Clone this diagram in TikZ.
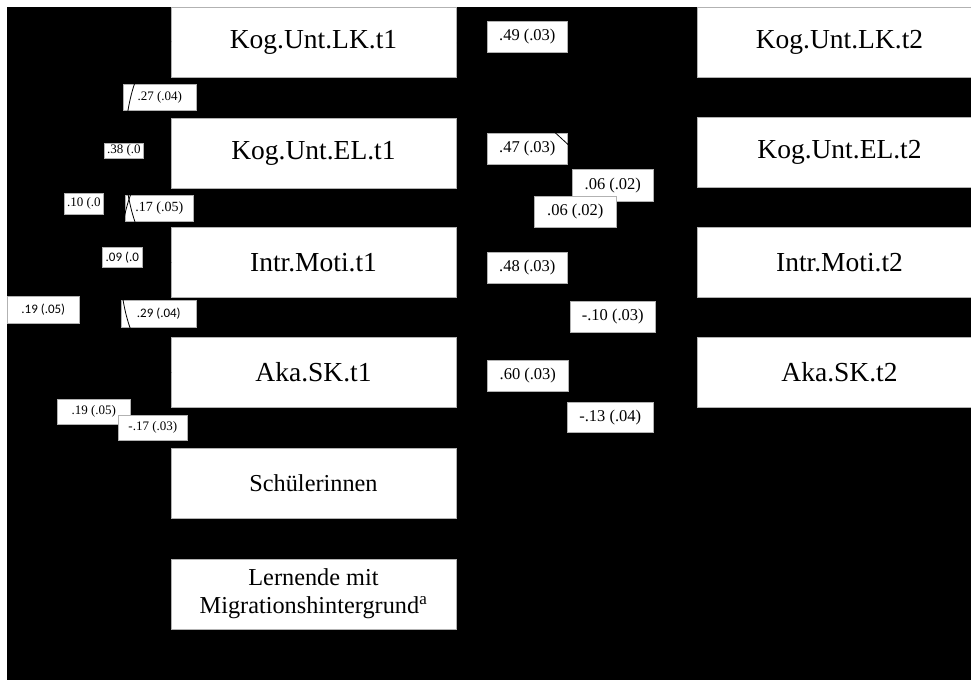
\documentclass[tikz,border=0pt]{standalone}
\usepackage{fontspec}
\setmainfont{Liberation Serif}
\newfontfamily\calib{Carlito}
\usetikzlibrary{arrows.meta}
\begin{document}
\begin{tikzpicture}[x=1pt,y=-1pt,
 box/.style={draw=gray!60,line width=0.7pt,fill=white,minimum width=285pt,minimum height=70pt,inner sep=0pt,font=\fontsize{27.5}{30}\selectfont},
 smallbox/.style={box,font=\fontsize{24.3}{28}\selectfont,align=center},
 lab/.style={draw=gray!60,line width=0.6pt,fill=white,inner sep=0pt,anchor=north west},
 labS/.style={lab,font=\fontsize{13}{15}\selectfont},
 labM/.style={lab,font=\fontsize{14}{16}\selectfont},
 labC/.style={lab,font=\calib\fontsize{13}{15}\selectfont},
 labR/.style={lab,font=\fontsize{16.5}{19}\selectfont},
 conn/.style={draw=black,line width=0.8pt,-{Latex[length=7pt,width=5pt]}},
 corr/.style={draw=black,line width=0.8pt,{Latex[length=7pt,width=5pt]}-{Latex[length=7pt,width=5pt]}},
]
\useasboundingbox (0,0) rectangle (971,680);
\clip (0,0) rectangle (971,680);
\fill[white] (0,0) rectangle (971,680);
\fill[black] (7,7) rectangle (971,680);

% anchor points of the variable boxes (used by connectors drawn beneath them)
\coordinate (LK1e) at (456,42);  \coordinate (LK1w) at (171,42);
\coordinate (EL1e) at (456,153); \coordinate (EL1w) at (171,153);
\coordinate (IM1e) at (456,262.5); \coordinate (IM1w) at (171,262.5);
\coordinate (AK1e) at (456,372.5); \coordinate (AK1w) at (171,372.5);
\coordinate (SCHe) at (456,483); \coordinate (SCHw) at (171,483);
\coordinate (LERw) at (171,594);
\coordinate (LK2w) at (697,42);
\coordinate (EL2w) at (697,152);
\coordinate (IM2w) at (697,262.5);
\coordinate (AK2w) at (697,372.5);

% connectors (black on black), beneath the boxes
\draw[conn] (LK1e) -- (LK2w);
\draw[conn] (EL1e) -- (EL2w);
\draw[conn] (IM1e) -- (IM2w);
\draw[conn] (AK1e) -- (AK2w);
\draw[conn] (EL1e) -- (IM2w);
\draw[conn] (IM1e) -- (EL2w);
\draw[conn] (IM1e) -- (AK2w);
\draw[conn] (SCHe) -- (AK2w);
\draw[corr] (LK1w) to[out=180,in=180] (EL1w);
\draw[corr] (EL1w) to[out=180,in=180] (IM1w);
\draw[corr] (IM1w) to[out=180,in=180] (AK1w);
\draw[corr] (LK1w) .. controls (40,80) and (40,335) .. (AK1w);
\draw[corr] (SCHw) to[out=180,in=180] (AK1w);
\draw[corr] (LERw) .. controls (60,560) and (60,420) .. (AK1w);

% variable boxes
\node[box] (LK1) at (313.5,42) {Kog.Unt.LK.t1};
\node[box] (EL1) at (313.5,153) {Kog.Unt.EL.t1};
\node[box] (IM1) at (313.5,262.5) {Intr.Moti.t1};
\node[box] (AK1) at (313.5,372.5) {Aka.SK.t1};
\node[smallbox] (SCH) at (313.5,483) {Schülerinnen};
\node[smallbox] (LER) at (313.5,594) {Lernende mit\\Migrationshintergrund\textsuperscript{a}};
\node[box] (LK2) at (839.5,42) {Kog.Unt.LK.t2};
\node[box] (EL2) at (839.5,152) {Kog.Unt.EL.t2};
\node[box] (IM2) at (839.5,262.5) {Intr.Moti.t2};
\node[box] (AK2) at (839.5,372.5) {Aka.SK.t2};

% labels, first group
\node[labS,minimum width=73pt,minimum height=26pt] (l27) at (123,84) {.27 (.04)};
\node[labM,minimum width=68pt,minimum height=26pt] (l17) at (125,195) {.17 (.05)};
\node[labC,minimum width=75pt,minimum height=27pt] (l29) at (121,300) {.29 (.04)};
\node[labR,minimum width=80pt,minimum height=31pt] (l49) at (487,21) {.49 (.03)};
\node[labR,minimum width=80pt,minimum height=31pt] (l47) at (487,133) {.47 (.03)};
\node[labR,minimum width=80pt,minimum height=31pt] (l48) at (487,252) {.48 (.03)};
\node[labR,minimum width=81pt,minimum height=31pt] (l60) at (487,360) {.60 (.03)};

% connectors crossing labels
\draw[corr,shorten <=-1.2pt,shorten >=-1.2pt] (LK1.west) .. controls (111,62) and (111,242) .. (IM1.west);
\draw[corr,shorten >=-1.2pt] (EL1.west) .. controls (105,173) and (105,352) .. (AK1.west);
\draw[conn,shorten <=1pt] (LK1.east) -- (IM2.west);

% labels, second group
\node[labS,minimum width=39pt,minimum height=15pt] (l38) at (104,143) {.38 (.0};
\node[labS,minimum width=39pt,minimum height=21pt] (l10) at (64,193) {.10 (.0};
\node[labC,minimum width=40pt,minimum height=20pt] (l09) at (102,247) {.09 (.0};
\node[labC,minimum width=72pt,minimum height=27pt] (l19a) at (7,296) {.19 (.05)};
\node[labS,minimum width=73pt,minimum height=25pt] (l19b) at (57,399) {.19 (.05)};
\node[labS,minimum width=69pt,minimum height=25pt] (l17n) at (118,415) {-.17 (.03)};
\node[labR,minimum width=81pt,minimum height=32pt] (l06a) at (572,169) {.06 (.02)};
\node[labR,minimum width=82pt,minimum height=31pt] (l06b) at (534,196) {.06 (.02)};
\node[labR,minimum width=85pt,minimum height=31pt] (l10n) at (570,301) {-.10 (.03)};
\node[labR,minimum width=86pt,minimum height=30pt] (l13n) at (567,402) {-.13 (.04)};
\end{tikzpicture}
\end{document}
